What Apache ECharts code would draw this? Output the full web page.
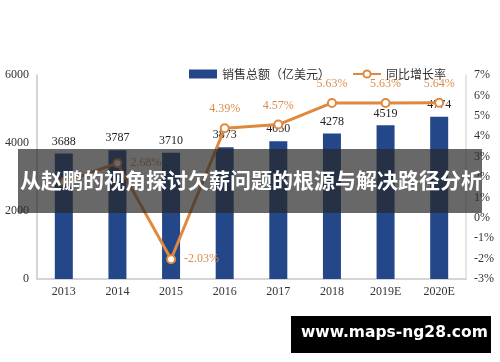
<!DOCTYPE html>
<html><head><meta charset="utf-8">
<script src="https://cdn.jsdelivr.net/npm/echarts@6/dist/echarts.min.js"></script>
<style>html,body{margin:0;padding:0;background:#fff}#c{width:500px;height:362px}</style>
</head><body><div id="c"></div>
<script>
const categories = ['2013','2014','2015','2016','2017','2018','2019E','2020E'];
const sales = [3688, 3787, 3710, 3873, 4050, 4278, 4519, 4774];
const growth = [1.75, 2.68, -2.03, 4.39, 4.57, 5.63, 5.63, 5.64];
const leftTicks = {min: 0, max: 6000, interval: 2000};
const rightTicks = {min: -3, max: 7, interval: 1};
const bannerText = '从赵鹏的视角探讨欠薪问题的根源与解决路径分析';
const watermark = 'www.maps-ng28.com';

const serif = '"Liberation Serif", "Times New Roman", serif';
const cjk = '"Noto Sans CJK SC", sans-serif';
const labelPos = ['bottom','right','right','top','top','top','top','top'];

const chart = echarts.init(document.getElementById('c'));
chart.setOption({
  animation: false,
  legend: {
    top: 63, left: 184, itemGap: 22, itemWidth: 28, itemHeight: 9,
    textStyle: {fontFamily: cjk, fontSize: 12, color: '#333'},
    data: [
      {name: '销售总额（亿美元）', icon: 'rect'},
      {name: '同比增长率'}
    ]
  },
  grid: {left: 37, right: 34, top: 75, bottom: 83},
  xAxis: {
    type: 'category', data: categories,
    axisLine: {lineStyle: {color: '#c8c8c8', width: 1.5}},
    axisTick: {show: false},
    axisLabel: {fontFamily: serif, fontSize: 12, color: '#333', margin: 7}
  },
  yAxis: [
    {type: 'value', min: leftTicks.min, max: leftTicks.max, interval: leftTicks.interval,
     axisLine: {show: true, lineStyle: {color: '#c8c8c8', width: 1.5}},
     splitLine: {show: false}, axisTick: {show: false},
     axisLabel: {fontFamily: serif, fontSize: 12, color: '#333', margin: 8, formatter: v => String(v)}},
    {type: 'value', min: rightTicks.min, max: rightTicks.max, interval: rightTicks.interval,
     axisLine: {show: true, lineStyle: {color: '#dcdcdc', width: 1.5}},
     splitLine: {show: false}, axisTick: {show: false},
     axisLabel: {fontFamily: serif, fontSize: 12, color: '#333', margin: 8, formatter: '{value}%'}}
  ],
  series: [
    {name: '销售总额（亿美元）', type: 'bar', data: sales, barWidth: 18,
     itemStyle: {color: '#24478a'},
     label: {show: true, position: 'top', distance: 6, fontFamily: serif, fontSize: 12, color: '#222'}},
    {name: '同比增长率', type: 'line', yAxisIndex: 1,
     data: growth.map((v, i) => ({value: v, label: {position: labelPos[i], show: i !== 0}})),
     symbol: 'circle', symbolSize: 8, z: 3,
     lineStyle: {color: '#e0883d', width: 3},
     itemStyle: {color: '#fff', borderColor: '#e0883d', borderWidth: 2},
     label: {show: true, distance: 8, fontFamily: serif, fontSize: 12, color: '#d98c4a',
              formatter: p => p.value.toFixed(2) + '%'}}
  ],
  graphic: [
    {type: 'rect', z: 100, shape: {x: 18, y: 149, width: 464, height: 64},
     style: {fill: 'rgba(40,40,40,0.7)'}},
    {type: 'text', z: 101, left: 20, top: 170,
     style: {text: bannerText, fill: '#fff', font: 'bold 21px ' + cjk}},
    {type: 'rect', z: 100, shape: {x: 291, y: 316, width: 200, height: 37},
     style: {fill: '#000'}},
    {type: 'text', z: 101, left: 301, top: 325,
     style: {text: watermark, fill: '#fff', font: 'bold 15.5px "DejaVu Sans", sans-serif'}}
  ]
});
</script></body></html>
